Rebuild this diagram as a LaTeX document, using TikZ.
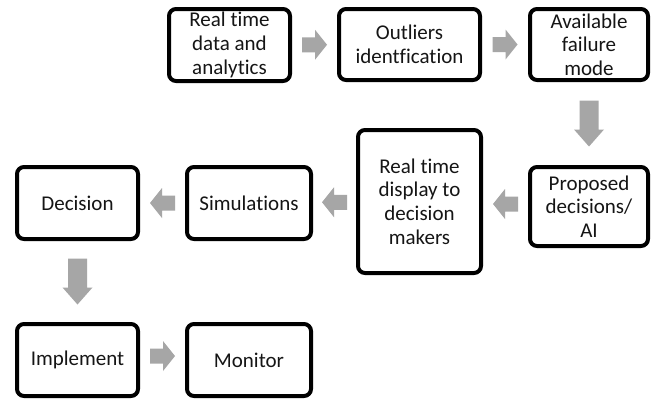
\documentclass[tikz,border=0pt]{standalone}
\usepackage{fontspec}
\setmainfont{Carlito}[Ligatures=NoCommon]
\usetikzlibrary{calc}
\definecolor{flowgray}{HTML}{A6A6A6}
\definecolor{labelink}{HTML}{151515}
\tikzset{
  stepbox/.style={draw=black, line width=4pt, rounded corners=7pt, fill=white,
    align=center, inner sep=2pt, text=labelink,
    font=\fontsize{21}{23.6}\selectfont},
  pics/arrowright/.style={code={
    \fill[flowgray] (-12.5,-7.5) -- (0.5,-7.5) -- (0.5,-15) -- (12.5,0)
      -- (0.5,15) -- (0.5,7.5) -- (-12.5,7.5) -- cycle;}},
  pics/arrowleft/.style={code={
    \fill[flowgray] (12.5,-7.5) -- (-0.5,-7.5) -- (-0.5,-15) -- (-12.5,0)
      -- (-0.5,15) -- (-0.5,7.5) -- (12.5,7.5) -- cycle;}},
  pics/arrowdown/.style={code={
    \fill[flowgray] (-9.5,-23) -- (9.5,-23) -- (9.5,6) -- (15,6) -- (0,23)
      -- (-15,6) -- (-9.5,6) -- cycle;}}
}
\begin{document}
\begin{tikzpicture}[x=1pt, y=-1pt]
\useasboundingbox (0,0) rectangle (656,399);
\fill[white] (0,0) rectangle (656,399);

% top row
\node[stepbox, minimum width=121pt, minimum height=72pt] (rt)   at (229.5,45)  {Real time\\data and\\analytics};
\node[stepbox, minimum width=141pt, minimum height=71pt] (out)  at (409.5,44.5) {Outliers\\identfication};
\node[stepbox, minimum width=118pt, minimum height=71pt] (fail) at (589,44.5)  {Available\\failure\\mode};

% middle row
\node[stepbox, minimum width=118pt, minimum height=79pt]  (prop) at (589,206.5)   {Proposed\\decisions/\\AI};
\node[stepbox, minimum width=123pt, minimum height=143pt] (disp) at (419.5,201.5) {Real time\\display to\\decision\\makers};
\node[stepbox, minimum width=124pt, minimum height=72pt]  (sim)  at (249,203)     {Simulations};
\node[stepbox, minimum width=121pt, minimum height=72pt]  (dec)  at (77.5,203)    {Decision};

% bottom row
\node[stepbox, minimum width=121pt, minimum height=72pt] (impl) at (77.5,360) {Implement};
\node[stepbox, minimum width=124pt, minimum height=72pt] (mon)  at (249,360)  {Monitor};

% block arrows between the steps
\pic at ($(rt.east)!0.5!(out.west)$) {arrowright};
\pic at ($(out.east)!0.5!(fail.west)$) {arrowright};
\pic at ($(fail.south)!0.5!(prop.north)$) {arrowdown};
\pic at ($(prop.west)!0.5!(disp.east)$) {arrowleft};
\pic at ($(disp.west)!0.5!(sim.east)$) {arrowleft};
\pic at ($(sim.west)!0.5!(dec.east)$) {arrowleft};
\pic at ($(dec.south)!0.5!(impl.north)$) {arrowdown};
\pic at ($(impl.east)!0.5!(mon.west)+(0,-4)$) {arrowright};
\end{tikzpicture}
\end{document}
